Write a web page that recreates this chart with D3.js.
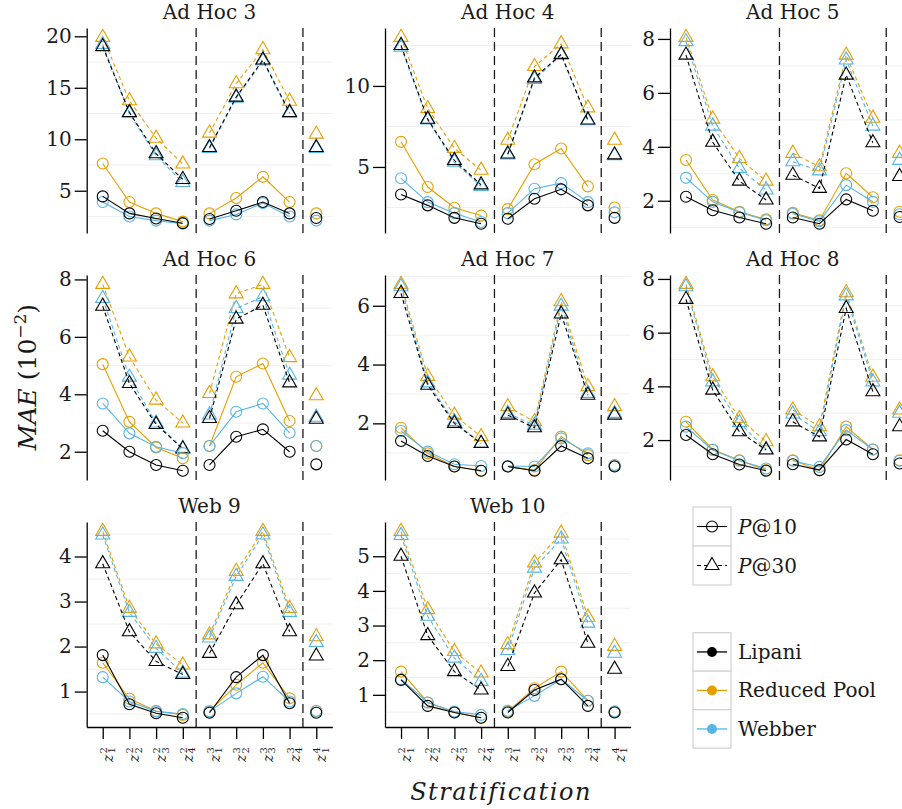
<!DOCTYPE html>
<html>
<head>
<meta charset="utf-8">
<script src="https://cdn.jsdelivr.net/npm/d3@7"></script>
<style>
body { margin: 0; background: #fff; }
svg { display: block; }
text { font-family: "DejaVu Serif", serif; fill: #1a1a1a; }
</style>
</head>
<body>
<script>
// panels, strata and the estimated MAE values (x 10^-2)
var panelTitles = ["Ad Hoc 3", "Ad Hoc 4", "Ad Hoc 5", "Ad Hoc 6", "Ad Hoc 7", "Ad Hoc 8", "Web 9", "Web 10"];
var stratSup = [2, 2, 2, 2, 3, 3, 3, 3, 4];
var stratSub = [1, 2, 3, 4, 1, 2, 3, 4, 1];
var strata = stratSup.map(function(s, i) { return "z" + s + "_" + stratSub[i]; });
var yTicks = [[5, 10, 15, 20], [5, 10], [2, 4, 6, 8], [2, 4, 6, 8], [2, 4, 6], [2, 4, 6, 8], [1, 2, 3, 4], [1, 2, 3, 4, 5]];
var systems = ["Lipani", "Reduced Pool", "Webber"];
var systemColors = ["#000000", "#E69F00", "#56B4E9"];
var metrics = ["P@10", "P@30"];

var lipaniP10 = [
    [4.45, 2.8, 2.3, 1.85, 2.25, 3.05, 3.9, 2.8, 2.35],
    [3.3, 2.63, 1.86, 1.5, 1.8, 3.04, 3.62, 2.63, 1.86],
    [2.15, 1.65, 1.38, 1.15, 1.38, 1.15, 2.05, 1.63, 1.4],
    [2.73, 2.0, 1.54, 1.34, 1.54, 2.52, 2.78, 2.0, 1.56],
    [1.4, 0.89, 0.53, 0.39, 0.53, 0.39, 1.23, 0.81, 0.53],
    [2.19, 1.47, 1.09, 0.86, 1.1, 0.88, 2.02, 1.47, 1.13],
    [1.81, 0.72, 0.52, 0.42, 0.53, 1.32, 1.81, 0.74, 0.53],
    [1.43, 0.68, 0.49, 0.34, 0.49, 1.14, 1.45, 0.68, 0.49]
];
var reducedP10 = [
    [7.65, 3.9, 2.8, 2.0, 2.8, 4.3, 6.35, 3.9, 2.8],
    [6.55, 3.76, 2.48, 2.0, 2.4, 5.17, 6.14, 3.8, 2.5],
    [3.51, 2.03, 1.59, 1.31, 1.55, 1.28, 3.02, 2.13, 1.59],
    [5.05, 3.04, 2.15, 1.77, 2.2, 4.61, 5.07, 3.07, 2.2],
    [1.85, 0.98, 0.53, 0.39, 0.53, 0.41, 1.55, 0.92, 0.55],
    [2.68, 1.65, 1.25, 0.88, 1.25, 0.88, 2.5, 1.65, 1.25],
    [1.64, 0.84, 0.57, 0.48, 0.56, 1.15, 1.64, 0.85, 0.57],
    [1.67, 0.78, 0.49, 0.34, 0.52, 1.19, 1.67, 0.83, 0.52]
];
var webberP10 = [
    [3.9, 2.5, 2.1, 1.8, 2.1, 2.7, 3.8, 2.5, 2.1],
    [4.3, 2.83, 2.15, 1.6, 2.15, 3.66, 4.0, 2.83, 2.2],
    [2.85, 1.96, 1.57, 1.28, 1.52, 1.24, 2.58, 1.96, 1.5],
    [3.68, 2.64, 2.17, 1.95, 2.2, 3.39, 3.68, 2.66, 2.2],
    [1.74, 1.04, 0.61, 0.55, 0.55, 0.53, 1.49, 0.98, 0.58],
    [2.5, 1.63, 1.23, 0.94, 1.23, 1.0, 2.37, 1.65, 1.23],
    [1.32, 0.78, 0.56, 0.5, 0.56, 0.96, 1.33, 0.78, 0.57],
    [1.45, 0.78, 0.52, 0.42, 0.54, 0.97, 1.45, 0.83, 0.52]
];
var lipaniP30 = [
    [19.0, 12.6, 8.6, 6.1, 9.2, 14.1, 17.7, 12.6, 9.2],
    [12.5, 7.95, 5.4, 3.9, 5.8, 10.5, 11.95, 7.9, 5.75],
    [7.4, 4.17, 2.73, 2.03, 2.95, 2.46, 6.66, 4.15, 2.9],
    [7.07, 4.38, 2.95, 2.1, 3.16, 6.62, 7.1, 4.4, 3.13],
    [6.42, 3.3, 2.0, 1.32, 2.28, 1.85, 5.72, 2.96, 2.28],
    [7.24, 3.86, 2.31, 1.63, 2.68, 2.12, 6.9, 3.8, 2.5],
    [3.84, 2.33, 1.67, 1.38, 1.85, 2.93, 3.84, 2.33, 1.79],
    [5.0, 2.71, 1.67, 1.14, 1.82, 3.94, 4.9, 2.49, 1.74]
];
var reducedP30 = [
    [19.9, 13.75, 10.1, 7.6, 10.6, 15.4, 18.7, 13.7, 10.5],
    [13.0, 8.6, 6.15, 4.8, 6.65, 11.2, 12.6, 8.65, 6.65],
    [8.06, 5.03, 3.57, 2.73, 3.76, 3.26, 7.4, 5.06, 3.76],
    [7.83, 5.3, 3.8, 3.0, 4.03, 7.5, 7.83, 5.28, 3.95],
    [6.73, 3.6, 2.28, 1.55, 2.57, 2.06, 6.14, 3.25, 2.57],
    [7.8, 4.36, 2.81, 1.94, 3.12, 2.5, 7.49, 4.34, 3.12],
    [4.56, 2.85, 2.06, 1.59, 2.26, 3.67, 4.56, 2.85, 2.22],
    [5.72, 3.46, 2.25, 1.63, 2.45, 4.81, 5.67, 3.24, 2.4]
];
var webberP30 = [
    [19.2, 12.5, 8.4, 5.8, 9.1, 14.0, 17.6, 12.5, 9.1],
    [12.4, 7.9, 5.3, 3.8, 5.75, 10.4, 11.9, 7.85, 5.7],
    [7.9, 4.77, 3.2, 2.4, 3.45, 3.11, 7.22, 4.77, 3.5],
    [7.34, 4.6, 3.0, 2.12, 3.28, 6.99, 7.4, 4.67, 3.2],
    [6.65, 3.38, 2.06, 1.32, 2.34, 1.94, 5.99, 3.02, 2.34],
    [7.71, 4.17, 2.65, 1.65, 2.97, 2.31, 7.37, 4.17, 3.0],
    [4.48, 2.76, 1.96, 1.41, 2.19, 3.56, 4.48, 2.76, 2.09],
    [5.6, 3.27, 2.06, 1.39, 2.28, 4.66, 5.5, 3.07, 2.2]
];

var seriesByMetric = {
    "P@10": [lipaniP10, reducedP10, webberP10],
    "P@30": [lipaniP30, reducedP30, webberP30]
};
var groups = [[0, 1, 2, 3], [4, 5, 6, 7], [8]];
var drawOrder = [1, 2, 0]; // black ends up on top

var W = 902, H = 809;
var colX = [86.7, 385, 670];
var rowY = [28, 275, 522];
var pw = 245.6, ph = 205;

var svg = d3.select("body").append("svg")
    .attr("width", W)
    .attr("height", H);

var x = d3.scalePoint().domain(strata).range([0, pw]).padding(0.6);

function triangle(cx, cy) {
    var s = 14, h = s * Math.sqrt(3) / 2;
    return "M" + cx + "," + (cy - 2 * h / 3) +
        "L" + (cx + s / 2) + "," + (cy + h / 3) +
        "L" + (cx - s / 2) + "," + (cy + h / 3) + "Z";
}

function drawSeries(g, vals, y, metric, color) {
    var line = d3.line().x(function(i) { return x(strata[i]); }).y(function(i) { return y(vals[i]); });
    groups.forEach(function(grp) {
        if (grp.length < 2) return;
        g.append("path")
            .attr("d", line(grp))
            .attr("fill", "none")
            .attr("stroke", color)
            .attr("stroke-width", 1.1)
            .attr("stroke-dasharray", metric == "P@30" ? "4,3" : null);
    });
    vals.forEach(function(v, i) {
        var cx = x(strata[i]), cy = y(v);
        if (metric == "P@10") {
            g.append("circle").attr("cx", cx).attr("cy", cy).attr("r", 5.5)
                .attr("fill", "none").attr("stroke", color).attr("stroke-width", 1.1);
        } else {
            g.append("path").attr("d", triangle(cx, cy))
                .attr("fill", "none").attr("stroke", color).attr("stroke-width", 1.1);
        }
    });
}

panelTitles.forEach(function(title, p) {
    var col = p % 3, row = Math.floor(p / 3);
    var g = svg.append("g").attr("transform", "translate(" + colX[col] + "," + rowY[row] + ")");

    var all = [];
    metrics.forEach(function(m) {
        seriesByMetric[m].forEach(function(s) { all = all.concat(s[p]); });
    });
    var ext = d3.extent(all);
    var pad = (ext[1] - ext[0]) * 0.05;
    var y = d3.scaleLinear().domain([ext[0] - pad, ext[1] + pad]).range([ph, 0]);

    // faint minor grid half way between the breaks
    var t = yTicks[p], step = t[1] - t[0];
    var minor = d3.range(t[0] - step * 3.5, ext[1] + pad, step).filter(function(v) { return v > ext[0] - pad; });
    g.selectAll(".minor").data(minor).join("line")
        .attr("x1", 0).attr("x2", pw)
        .attr("y1", function(d) { return y(d); }).attr("y2", function(d) { return y(d); })
        .attr("stroke", "#f0f0f0").attr("stroke-width", 1);

    // stratification separators
    [[3, 4], [7, 8]].forEach(function(pair) {
        var sx = (x(strata[pair[0]]) + x(strata[pair[1]])) / 2;
        g.append("line").attr("x1", sx).attr("x2", sx).attr("y1", 0).attr("y2", ph)
            .attr("stroke", "#1a1a1a").attr("stroke-width", 1.3).attr("stroke-dasharray", "9,5");
    });

    var yAxis = g.append("g").call(d3.axisLeft(y).tickValues(t).tickSize(12).tickPadding(3)
        .tickSizeOuter(0).tickFormat(d3.format("d")));
    yAxis.select(".domain").attr("stroke", "#000").attr("stroke-width", 1.3);
    yAxis.selectAll(".tick line").attr("stroke", "#000").attr("stroke-width", 1.3);
    yAxis.selectAll(".tick text").attr("font-family", "DejaVu Serif").attr("font-size", 20).attr("fill", "#1a1a1a");

    if (row == 2) {
        var xAxis = g.append("g").attr("transform", "translate(0," + ph + ")")
            .call(d3.axisBottom(x).tickSize(12).tickSizeOuter(0).tickFormat(""));
        xAxis.select(".domain").attr("stroke", "#000").attr("stroke-width", 1.3);
        xAxis.selectAll(".tick line").attr("stroke", "#000").attr("stroke-width", 1.3);
        strata.forEach(function(s, i) {
            var lg = g.append("g").attr("transform", "translate(" + x(s) + "," + (ph + 20) + ") rotate(-90)");
            lg.append("text").attr("x", -7.5).attr("y", 10).attr("text-anchor", "end")
                .attr("font-style", "italic").attr("font-size", 14).text("z");
            lg.append("text").attr("x", 0).attr("y", 4).attr("text-anchor", "end")
                .attr("font-size", 10).text(stratSup[i]);
            lg.append("text").attr("x", 0).attr("y", 12.5).attr("text-anchor", "end")
                .attr("font-size", 10).text(stratSub[i]);
        });
    }

    g.append("text").attr("x", pw / 2).attr("y", -9).attr("text-anchor", "middle")
        .attr("font-size", 20).text(title);

    metrics.slice().reverse().forEach(function(m) {
        drawOrder.forEach(function(si) {
            drawSeries(g, seriesByMetric[m][si][p], y, m, systemColors[si]);
        });
    });
});

// axis titles
var yt = svg.append("text").attr("transform", "translate(36,377) rotate(-90)")
    .attr("text-anchor", "middle").attr("font-size", 25);
yt.append("tspan").attr("font-style", "italic").text("MAE");
yt.append("tspan").text(" (10");
yt.append("tspan").attr("dy", -10).attr("font-size", 17).text("\u22122");
yt.append("tspan").attr("dy", 10).text(")");

svg.append("text").attr("x", 501).attr("y", 800).attr("text-anchor", "middle")
    .attr("font-size", 24).attr("font-style", "italic").attr("letter-spacing", 1.5)
    .text("Stratification");

// legends
var keyX = 693, keyW = 38, keyH = 39;
var legShape = svg.append("g");
metrics.forEach(function(m, i) {
    var ky = 507 + i * keyH;
    legShape.append("rect").attr("x", keyX).attr("y", ky).attr("width", keyW).attr("height", keyH)
        .attr("fill", "#fff").attr("stroke", "#d4d4d4").attr("stroke-width", 1.3);
    var cy = ky + keyH / 2;
    legShape.append("line").attr("x1", keyX + 4).attr("x2", keyX + keyW - 4).attr("y1", cy).attr("y2", cy)
        .attr("stroke", "#000").attr("stroke-width", 1.1).attr("stroke-dasharray", m == "P@30" ? "4,3" : null);
    if (m == "P@10") {
        legShape.append("circle").attr("cx", keyX + keyW / 2).attr("cy", cy).attr("r", 5.5)
            .attr("fill", "none").attr("stroke", "#000").attr("stroke-width", 1.1);
    } else {
        legShape.append("path").attr("d", triangle(keyX + keyW / 2, cy))
            .attr("fill", "#fff").attr("stroke", "#000").attr("stroke-width", 1.1);
    }
    var lt = legShape.append("text").attr("x", keyX + keyW + 7).attr("y", cy + 7).attr("font-size", 20);
    lt.append("tspan").attr("font-style", "italic").text(m.slice(0, 1));
    lt.append("tspan").text(m.slice(1));
});

var legSys = svg.append("g");
var keyH2 = 38.5;
systems.forEach(function(s, i) {
    var ky = 632.7 + i * keyH2;
    legSys.append("rect").attr("x", keyX).attr("y", ky).attr("width", keyW).attr("height", keyH2)
        .attr("fill", "#fff").attr("stroke", "#d4d4d4").attr("stroke-width", 1.3);
    var cy = ky + keyH2 / 2;
    legSys.append("line").attr("x1", keyX + 4).attr("x2", keyX + keyW - 4).attr("y1", cy).attr("y2", cy)
        .attr("stroke", systemColors[i]).attr("stroke-width", 1.3);
    legSys.append("circle").attr("cx", keyX + keyW / 2).attr("cy", cy).attr("r", 5)
        .attr("fill", systemColors[i]);
    legSys.append("text").attr("x", keyX + keyW + 7).attr("y", cy + 7).attr("font-size", 20).text(s);
});
</script>
</body>
</html>
